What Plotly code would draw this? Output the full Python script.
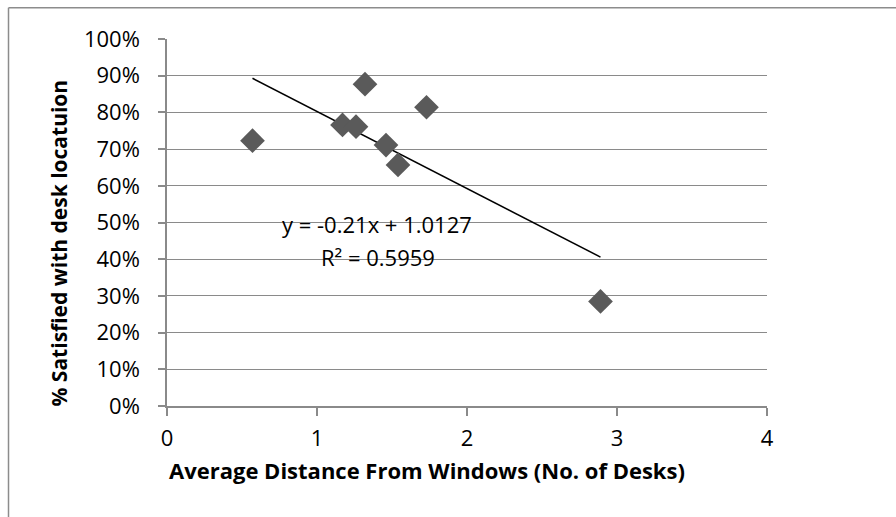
import plotly.graph_objects as go

# Data
distance = [0.57, 1.32, 1.17, 1.26, 1.46, 1.54, 1.73, 2.89]
satisfied = [0.723, 0.877, 0.766, 0.761, 0.711, 0.657, 0.814, 0.285]

# Trendline as stated on the chart
slope = -0.21
intercept = 1.0127
r_squared = 0.5959

x_ticks = [0, 1, 2, 3, 4]
y_ticks = [0, 0.1, 0.2, 0.3, 0.4, 0.5, 0.6, 0.7, 0.8, 0.9, 1.0]
y_tick_labels = [f"{int(round(v * 100))}%" for v in y_ticks]

x_title = "Average Distance From Windows (No. of Desks)"
y_title = "% Satisfied with desk locatuion"

FONT = "Open Sans"
GRID = "#8a8a8a"

trend_x = [min(distance), max(distance)]
trend_y = [slope * v + intercept for v in trend_x]

fig = go.Figure()
fig.add_trace(go.Scatter(
    x=trend_x, y=trend_y, mode="lines",
    line=dict(color="black", width=1.5), showlegend=False, hoverinfo="skip",
))
fig.add_trace(go.Scatter(
    x=distance, y=satisfied, mode="markers",
    marker=dict(symbol="diamond", size=19, color="#5a5a5a",
                line=dict(width=0)),
    showlegend=False,
))

bx = (8 - 166.6) / 600.4
by = (405.7 - 8) / 366.4

fig.update_layout(
    width=896, height=517,
    margin=dict(l=166.6, r=129, t=39.3, b=111.3, autoexpand=False),
    paper_bgcolor="white", plot_bgcolor="white",
    font=dict(family=FONT, size=22, color="black"),
    xaxis=dict(
        range=[0, 4], tickvals=x_ticks, ticktext=[str(v) for v in x_ticks],
        showgrid=False, zeroline=False,
        showline=True, linecolor=GRID, linewidth=1.5,
        ticks="outside", ticklen=8, tickcolor=GRID, tickwidth=1.5,
        tickfont=dict(family=FONT, size=22), fixedrange=True,
        ticklabelstandoff=4,
    ),
    yaxis=dict(
        range=[0, 1.0], tickvals=y_ticks, ticktext=y_tick_labels,
        showgrid=True, gridcolor=GRID, gridwidth=1.2, zeroline=False,
        showline=True, linecolor=GRID, linewidth=1.5,
        ticks="outside", ticklen=7, tickcolor=GRID, tickwidth=1.5,
        tickfont=dict(family=FONT, size=22), fixedrange=True,
        ticklabelstandoff=14,
    ),
    shapes=[
        dict(type="line", xref="paper", yref="paper",
             x0=bx, x1=1.6, y0=by, y1=by,
             line=dict(color="#8c8c8c", width=1.5), layer="below"),
        dict(type="line", xref="paper", yref="paper",
             x0=bx, x1=bx, y0=-0.6, y1=by,
             line=dict(color="#8c8c8c", width=1.5), layer="below"),
    ],
    annotations=[
        dict(text=f"y = {slope}x + {intercept}", x=1.40, y=0.496,
             xref="x", yref="y", showarrow=False, xanchor="center", yanchor="middle",
             font=dict(family=FONT, size=22)),
        dict(text=f"R² = {r_squared}", x=1.407, y=0.407,
             xref="x", yref="y", showarrow=False, xanchor="center", yanchor="middle",
             font=dict(family=FONT, size=22)),
        dict(text=f"<b>{x_title}</b>", x=(427 - 166.6) / 600.4, y=(405.7 - 470) / 366.4,
             xref="paper", yref="paper", showarrow=False, xanchor="center", yanchor="middle",
             font=dict(family=FONT, size=22)),
        dict(text=f"<b>{y_title}</b>", x=(59 - 166.6) / 600.4, y=(405.7 - 243) / 366.4,
             xref="paper", yref="paper", showarrow=False, xanchor="center", yanchor="middle",
             textangle=-90, font=dict(family=FONT, size=21)),
    ],
)

fig.write_html(
    "out.html",
    config={"displayModeBar": False},
    post_script="document.body.style.margin='0';document.body.style.overflow='hidden';",
)
